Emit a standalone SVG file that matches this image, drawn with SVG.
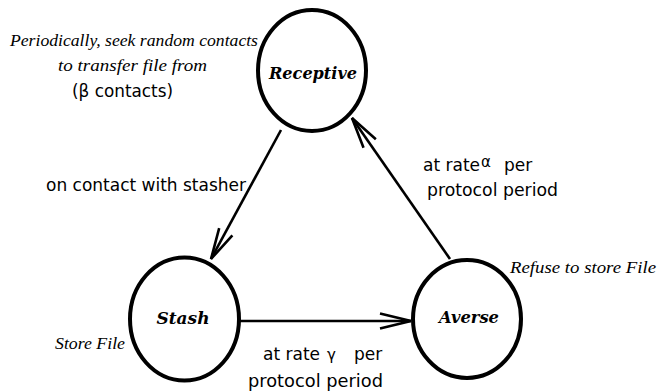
<svg xmlns="http://www.w3.org/2000/svg" width="660" height="392" viewBox="0 0 660 392">
  <style>
    .state { fill: #fff; stroke: #000; stroke-width: 4; }
    .name { font-family: "DejaVu Serif", "Liberation Serif", serif; font-weight: bold; font-style: italic; font-size: 17px; fill: #000; text-anchor: middle; }
    .note { font-family: "Liberation Serif", "Times New Roman", serif; font-style: italic; font-size: 17.5px; fill: #000; }
    .lbl { font-family: "DejaVu Sans", "Liberation Sans", sans-serif; font-size: 17px; fill: #000; }
    .edge { fill: none; stroke: #000; stroke-width: 2.6; }
  </style>
  <defs>
    <marker id="open-arrow" markerUnits="userSpaceOnUse" viewBox="-34 -12 40 24" markerWidth="40" markerHeight="24" refX="0" refY="0" orient="auto" overflow="visible">
      <path d="M-31,-7.5 L0,0 L-31,7.5" fill="none" stroke="#000" stroke-width="2.6"/>
    </marker>
  </defs>

  <rect width="660" height="392" fill="#fff"/>

  <!-- transitions -->
  <g id="connectors">
    <line class="edge" x1="281" y1="130" x2="211" y2="259" marker-end="url(#open-arrow)"/>
    <line class="edge" x1="239" y1="321" x2="411" y2="321" marker-end="url(#open-arrow)"/>
    <line class="edge" x1="450" y1="259" x2="352" y2="118" marker-end="url(#open-arrow)"/>
  </g>

  <!-- states -->
  <g id="receptive">
    <ellipse class="state" cx="312" cy="70.5" rx="54" ry="60.5"/>
    <text class="name" x="313" y="79" textLength="88" lengthAdjust="spacingAndGlyphs">Receptive</text>
  </g>
  <g id="stash">
    <ellipse class="state" cx="184.5" cy="319" rx="54.5" ry="61.5"/>
    <text class="name" x="183" y="324" textLength="53" lengthAdjust="spacingAndGlyphs">Stash</text>
  </g>
  <g id="averse">
    <ellipse class="state" cx="467" cy="319" rx="54" ry="59"/>
    <text class="name" x="469" y="323" textLength="60" lengthAdjust="spacingAndGlyphs">Averse</text>
  </g>

  <!-- state annotations -->
  <g id="receptive-note">
    <text class="note" x="10" y="46" textLength="248" lengthAdjust="spacingAndGlyphs">Periodically, seek random contacts</text>
    <text class="note" x="58" y="71" textLength="149" lengthAdjust="spacingAndGlyphs">to transfer file from</text>
    <text class="lbl" x="72" y="97" font-size="16" textLength="101" lengthAdjust="spacingAndGlyphs">(β contacts)</text>
  </g>
  <g id="stash-note">
    <text class="note" x="55" y="349" textLength="70" lengthAdjust="spacingAndGlyphs">Store File</text>
  </g>
  <g id="averse-note">
    <text class="note" x="510" y="273" textLength="146" lengthAdjust="spacingAndGlyphs">Refuse to store File</text>
  </g>

  <!-- transition labels -->
  <g id="label-contact">
    <text class="lbl" x="46" y="191" textLength="200" lengthAdjust="spacingAndGlyphs">on contact with stasher</text>
  </g>
  <g id="label-alpha">
    <text class="lbl" x="423" y="171">at rate<tspan x="481" y="167" font-size="15">α</tspan><tspan x="504" y="171">per</tspan></text>
    <text class="lbl" x="427" y="196" textLength="131" lengthAdjust="spacingAndGlyphs">protocol period</text>
  </g>
  <g id="label-gamma">
    <text class="lbl" x="263" y="360">at rate<tspan x="327" y="360" font-size="15">γ</tspan><tspan x="354" y="360">per</tspan></text>
    <text class="lbl" x="248" y="387" textLength="135" lengthAdjust="spacingAndGlyphs">protocol period</text>
  </g>
</svg>
